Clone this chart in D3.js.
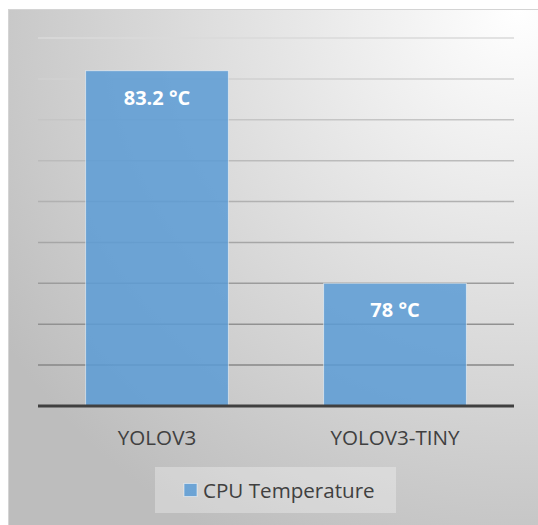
<!DOCTYPE html>
<html>
<head>
<meta charset="utf-8">
<script src="https://cdn.jsdelivr.net/npm/d3@7"></script>
<style>
  html, body { margin: 0; padding: 0; background: #fff; }
  svg { display: block; }
  text { font-family: "Open Sans", "Noto Sans", sans-serif; }
</style>
</head>
<body>
<svg id="chart" width="538" height="525"></svg>
<script>
const categories = ["YOLOV3", "YOLOV3-TINY"];
const values = [83.2, 78];
const valueLabels = ["83.2 °C", "78 °C"];
const seriesName = "CPU Temperature";
const yTicks = [75, 76, 77, 78, 79, 80, 81, 82, 83, 84];

const W = 538, H = 525;
const svg = d3.select("#chart");
const defs = svg.append("defs");

const bg = defs.append("radialGradient")
  .attr("id", "bg").attr("cx", "95%").attr("cy", "0%").attr("r", "115%")
  .attr("fx", "95%").attr("fy", "0%");
bg.append("stop").attr("offset", "0%").attr("stop-color", "#ffffff");
bg.append("stop").attr("offset", "100%").attr("stop-color", "#bdbdbd");

svg.append("rect").attr("x", 8.5).attr("y", 9.5).attr("width", W).attr("height", H)
  .attr("fill", "url(#bg)").attr("stroke", "#d4d4d4").attr("stroke-width", 1);

const plot = { left: 38, right: 514, top: 38, bottom: 406 };

const x = d3.scaleBand().domain(categories).range([plot.left, plot.right])
  .paddingInner(0.4).paddingOuter(0.2);
const y = d3.scaleLinear().domain([75, 84]).range([plot.bottom, plot.top]);

const gridColor = d3.scaleLinear().domain([84, 76]).range(["#dadada", "#878787"]);

svg.append("g").selectAll("line")
  .data(yTicks.filter(t => t !== 75))
  .join("line")
  .attr("x1", plot.left).attr("x2", plot.right)
  .attr("y1", d => y(d)).attr("y2", d => y(d))
  .attr("stroke", d => gridColor(d)).attr("stroke-width", 1.5);

svg.append("g").selectAll("rect")
  .data(values)
  .join("rect")
  .attr("x", (d, i) => x(categories[i]))
  .attr("y", d => y(d))
  .attr("width", x.bandwidth())
  .attr("height", d => y(75) - y(d))
  .attr("fill", "#5b9bd5").attr("fill-opacity", 0.85)
  .attr("stroke", "rgba(255,255,255,0.5)").attr("stroke-width", 1);

svg.append("g").selectAll("text")
  .data(values)
  .join("text")
  .attr("x", (d, i) => x(categories[i]) + x.bandwidth() / 2)
  .attr("y", d => y(d) + 34)
  .attr("text-anchor", "middle")
  .attr("fill", "#ffffff").attr("font-weight", "bold").attr("font-size", 20)
  .text((d, i) => valueLabels[i]);

svg.append("line")
  .attr("x1", plot.left).attr("x2", plot.right)
  .attr("y1", y(75)).attr("y2", y(75))
  .attr("stroke", "#404040").attr("stroke-width", 3);

const xAxis = d3.axisBottom(x).tickSize(0).tickPadding(0);
const gx = svg.append("g").attr("transform", `translate(0,${plot.bottom})`).call(xAxis);
gx.select(".domain").remove();
gx.selectAll("text")
  .attr("dy", null).attr("y", 38.5)
  .attr("fill", "#404040").attr("font-size", 20.6)
  .attr("font-family", "'Open Sans', 'Noto Sans', sans-serif");

const lg = svg.append("g");
lg.append("rect").attr("x", 155).attr("y", 467).attr("width", 241).attr("height", 46)
  .attr("fill", "rgba(255,255,255,0.3)");
lg.append("rect").attr("x", 184).attr("y", 483.5).attr("width", 13).attr("height", 13)
  .attr("fill", "#5b9bd5").attr("fill-opacity", 0.85)
  .attr("stroke", "rgba(255,255,255,0.5)").attr("stroke-width", 1);
lg.append("text").attr("x", 203).attr("y", 497.5)
  .attr("fill", "#404040").attr("font-size", 20.6).text(seriesName);
</script>
</body>
</html>
